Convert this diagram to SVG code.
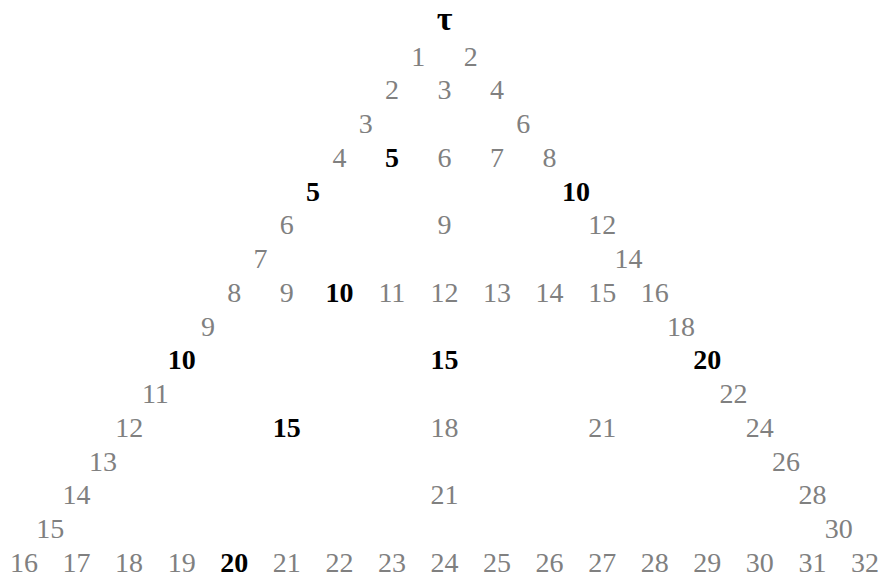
<svg xmlns="http://www.w3.org/2000/svg" width="883" height="576" viewBox="0 0 883 576">
<style>
text{font-family:"Liberation Serif","Times New Roman",serif;font-size:28px;text-anchor:middle}
.g{fill:#808080}
.b{fill:#000;font-weight:bold}
.t{font-size:34px}
</style>
<rect width="883" height="576" fill="#fff"/>
<g id="n0"><text class="b t" x="444.5" y="30">τ</text></g>
<g id="r1"><text class="g" x="418.2" y="65.7">1</text><text class="g" x="470.8" y="65.7">2</text></g>
<g id="r2"><text class="g" x="391.9" y="99.4">2</text><text class="g" x="444.5" y="99.4">3</text><text class="g" x="497.1" y="99.4">4</text></g>
<g id="r3"><text class="g" x="365.7" y="133.2">3</text><text class="g" x="523.3" y="133.2">6</text></g>
<g id="r4"><text class="g" x="339.4" y="166.9">4</text><text class="b" x="391.9" y="166.9">5</text><text class="g" x="444.5" y="166.9">6</text><text class="g" x="497.1" y="166.9">7</text><text class="g" x="549.6" y="166.9">8</text></g>
<g id="r5"><text class="b" x="313.1" y="200.6">5</text><text class="b" x="575.9" y="200.6">10</text></g>
<g id="r6"><text class="g" x="286.8" y="234.4">6</text><text class="g" x="444.5" y="234.4">9</text><text class="g" x="602.2" y="234.4">12</text></g>
<g id="r7"><text class="g" x="260.5" y="268.1">7</text><text class="g" x="628.5" y="268.1">14</text></g>
<g id="r8"><text class="g" x="234.3" y="301.8">8</text><text class="g" x="286.8" y="301.8">9</text><text class="b" x="339.4" y="301.8">10</text><text class="g" x="391.9" y="301.8">11</text><text class="g" x="444.5" y="301.8">12</text><text class="g" x="497.1" y="301.8">13</text><text class="g" x="549.6" y="301.8">14</text><text class="g" x="602.2" y="301.8">15</text><text class="g" x="654.7" y="301.8">16</text></g>
<g id="r9"><text class="g" x="208" y="335.5">9</text><text class="g" x="681" y="335.5">18</text></g>
<g id="r10"><text class="b" x="181.7" y="369.3">10</text><text class="b" x="444.5" y="369.3">15</text><text class="b" x="707.3" y="369.3">20</text></g>
<g id="r11"><text class="g" x="155.4" y="403">11</text><text class="g" x="733.6" y="403">22</text></g>
<g id="r12"><text class="g" x="129.2" y="436.7">12</text><text class="b" x="286.8" y="436.7">15</text><text class="g" x="444.5" y="436.7">18</text><text class="g" x="602.2" y="436.7">21</text><text class="g" x="759.8" y="436.7">24</text></g>
<g id="r13"><text class="g" x="102.9" y="470.5">13</text><text class="g" x="786.1" y="470.5">26</text></g>
<g id="r14"><text class="g" x="76.6" y="504.2">14</text><text class="g" x="444.5" y="504.2">21</text><text class="g" x="812.4" y="504.2">28</text></g>
<g id="r15"><text class="g" x="50.3" y="537.9">15</text><text class="g" x="838.7" y="537.9">30</text></g>
<g id="r16"><text class="g" x="24" y="571.7">16</text><text class="g" x="76.6" y="571.7">17</text><text class="g" x="129.1" y="571.7">18</text><text class="g" x="181.7" y="571.7">19</text><text class="b" x="234.3" y="571.7">20</text><text class="g" x="286.8" y="571.7">21</text><text class="g" x="339.4" y="571.7">22</text><text class="g" x="391.9" y="571.7">23</text><text class="g" x="444.5" y="571.7">24</text><text class="g" x="497.1" y="571.7">25</text><text class="g" x="549.6" y="571.7">26</text><text class="g" x="602.2" y="571.7">27</text><text class="g" x="654.7" y="571.7">28</text><text class="g" x="707.3" y="571.7">29</text><text class="g" x="759.8" y="571.7">30</text><text class="g" x="812.4" y="571.7">31</text><text class="g" x="865" y="571.7">32</text></g>
</svg>
